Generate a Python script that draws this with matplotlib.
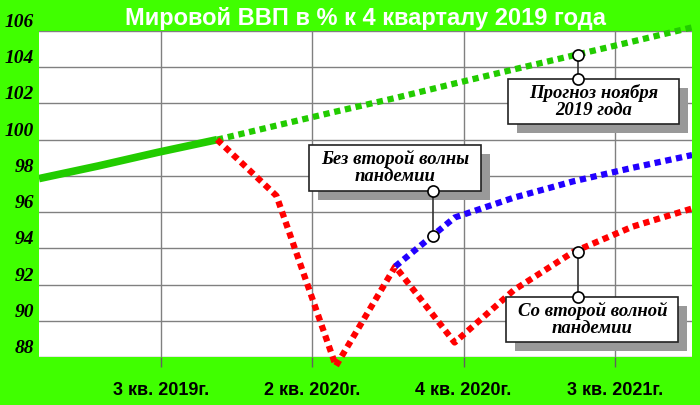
import numpy as np
import matplotlib
matplotlib.use("Agg")
import matplotlib.pyplot as plt
from matplotlib.patches import Rectangle

# quarter index: 0 = 1 кв. 2019, 3 = 4 кв. 2019, 11 = 4 кв. 2021
fact_x = [0, 1, 2, 3]
fact_y = [97.85, 98.55, 99.3, 100.0]

forecast_x = [3, 4, 5, 6, 7, 8, 9, 10, 11]
forecast_y = [100.0, 100.78, 101.55, 102.3, 103.1, 103.88, 104.65, 105.42, 106.2]

second_wave_x = [3, 4, 5, 6, 7, 8, 9, 10, 11]
second_wave_y = [100.0, 96.9, 87.5, 93.0, 88.8, 91.7, 93.8, 95.2, 96.2]

no_wave_x = [6, 7, 8, 9, 10, 11]
no_wave_y = [93.0, 95.7, 96.8, 97.7, 98.45, 99.15]

tick_pos = [2.05, 4.6, 7.15, 9.7]
tick_labels = ['3 кв. 2019г.', '2 кв. 2020г.', '4 кв. 2020г.', '3 кв. 2021г.']
y_ticks = [88, 90, 92, 94, 96, 98, 100, 102, 104, 106]

title = 'Мировой ВВП в % к 4 кварталу 2019 года'

BG = '#40ff00'

fig = plt.figure(figsize=(7, 4.05), dpi=100)
fig.patch.set_facecolor(BG)
ax = fig.add_axes([0.0557, 0.1185, 0.933, 0.805])
ax.set_facecolor('white')

ax.set_xlim(0, 11)
ax.set_ylim(88, 106)

dot = (0, (1.0, 0.75))
ax.plot(fact_x, fact_y, color='#22cc00', lw=5.5, solid_capstyle='butt', zorder=3)
ax.plot(forecast_x, forecast_y, color='#22cc00', lw=4.5, linestyle=dot,
        dash_capstyle='butt', zorder=3, clip_on=False)
ax.plot(second_wave_x, second_wave_y, color='#ff0000', lw=4.5, linestyle=dot,
        dash_capstyle='butt', zorder=3, clip_on=False)
ax.plot(no_wave_x, no_wave_y, color='#2200ff', lw=4.5, linestyle=dot,
        dash_capstyle='butt', zorder=4)

# grid
ax.set_yticks(y_ticks)
ax.set_xticks(tick_pos)
ax.set_xticklabels(tick_labels)
ax.grid(True, color='#808080', lw=1)
ax.set_axisbelow(True)
for s in ax.spines.values():
    s.set_visible(False)
ax.tick_params(axis='x', length=7, width=1, color='#606060', pad=11)
ax.tick_params(axis='y', length=0, pad=3.5)
for lab in ax.get_xticklabels():
    lab.set_fontfamily('Liberation Sans')
    lab.set_fontweight('bold')
    lab.set_fontsize(13)
for lab in ax.get_yticklabels():
    lab.set_fontfamily('Liberation Serif')
    lab.set_fontstyle('italic')
    lab.set_fontweight('bold')
    lab.set_fontsize(14)
    lab.set_va('bottom')

fig.text(0.522, 0.955, title, color='white', fontsize=17, fontweight='bold',
         family='Liberation Sans', ha='center', va='center')


def callout(text, cx, cy, w, h, px, y_point, y_box):
    # shadow then box
    ax.add_patch(Rectangle((cx - w / 2 + 0.15, cy - h / 2 - 0.5), w, h,
                           facecolor='#999999', edgecolor='none', zorder=5,
                           clip_on=False))
    ax.add_patch(Rectangle((cx - w / 2, cy - h / 2), w, h, facecolor='white',
                           edgecolor='#222222', lw=1.2, zorder=6, clip_on=False))
    ax.text(cx, cy, text, ha='center', va='center', fontsize=13.5,
            family='Liberation Serif', style='italic', fontweight='bold',
            linespacing=1.0, zorder=7)
    ax.plot([px, px], [y_point, y_box], color='#333333', lw=1.2, zorder=7)
    ax.plot([px, px], [y_point, y_box], 'o', ms=8, mfc='white', mec='black',
            mew=1.2, zorder=8)


callout('Прогноз ноября\n2019 года', 9.34, 102.1, 2.88, 2.48, 9.08, 104.7, 103.35)
callout('Без второй волны\nпандемии', 6.0, 98.45, 2.9, 2.55, 6.64, 94.68, 97.17)
callout('Со второй волной\nпандемии', 9.32, 90.05, 2.9, 2.48, 9.08, 93.8, 91.3)

fig.savefig('out.png', dpi=100, facecolor=BG)
